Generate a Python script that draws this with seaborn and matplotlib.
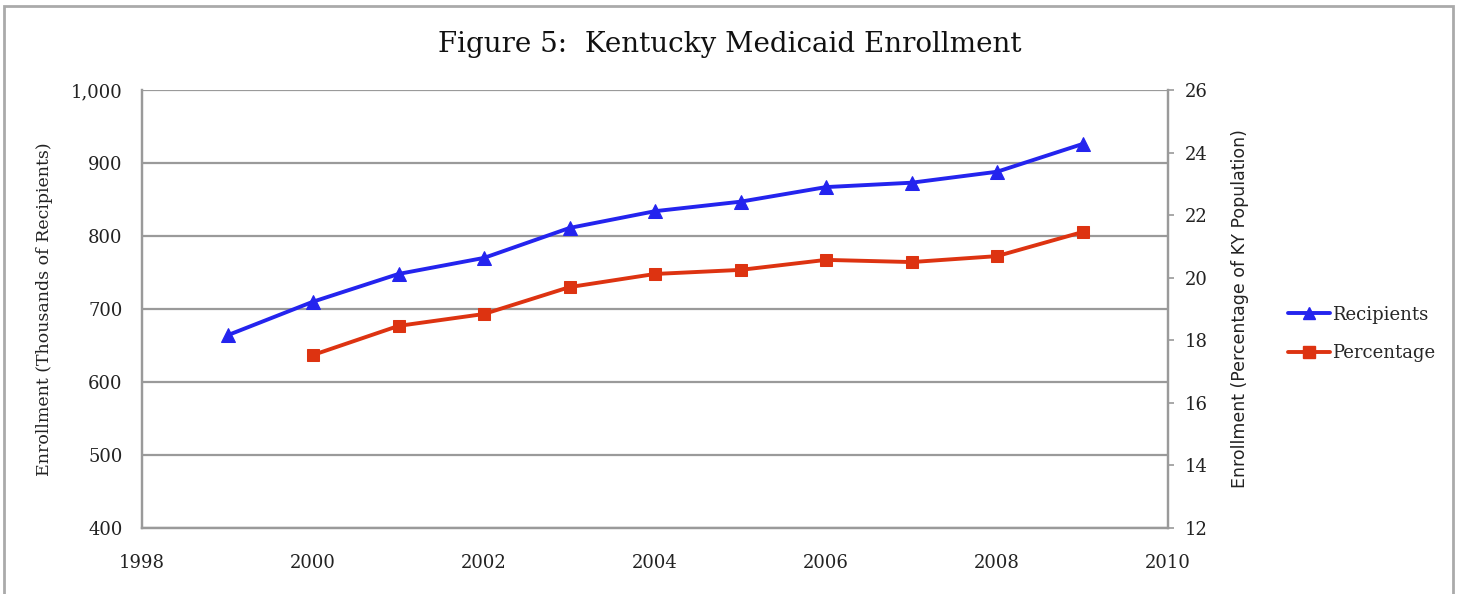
import matplotlib
matplotlib.use("Agg")
import matplotlib.pyplot as plt
import matplotlib.patches as mpatches
from matplotlib.lines import Line2D
from matplotlib.ticker import FuncFormatter
import seaborn as sns

years_recipients = [1999, 2000, 2001, 2002, 2003, 2004, 2005, 2006, 2007, 2008, 2009]
recipients = [664, 710, 748, 770, 811, 834, 847, 867, 873, 888, 926]

years_percentage = [2000, 2001, 2002, 2003, 2004, 2005, 2006, 2007, 2008, 2009]
percentage = [17.53, 18.46, 18.84, 19.70, 20.12, 20.25, 20.57, 20.50, 20.69, 21.46]

x_ticks = [1998, 2000, 2002, 2004, 2006, 2008, 2010]
left_ticks = [400, 500, 600, 700, 800, 900, 1000]
right_ticks = [12, 14, 16, 18, 20, 22, 24, 26]

title = "Figure 5:  Kentucky Medicaid Enrollment"
left_label = "Enrollment (Thousands of Recipients)"
right_label = "Enrollment (Percentage of KY Population)"
series_names = ["Recipients", "Percentage"]

BLUE = "#2424EE"
RED = "#DD3311"
GRID = "#9a9a9a"

sns.set_theme(style="white")
plt.rcParams['font.family'] = ['DejaVu Serif']

fig = plt.figure(figsize=(14.59, 5.94), dpi=100)
ax = fig.add_axes([142 / 1459, 1 - 528 / 594, (1168 - 142) / 1459, (528 - 90) / 594])
ax2 = ax.twinx()

sns.lineplot(x=years_recipients, y=recipients, ax=ax, color=BLUE, marker="^",
             markersize=10, linewidth=2.8, markeredgecolor=BLUE)
sns.lineplot(x=years_percentage, y=percentage, ax=ax2, color=RED, marker="s",
             markersize=9, linewidth=2.8, markeredgecolor=RED)

ax.set_xlim(1998, 2010)
ax.set_xticks(x_ticks)
ax.set_ylim(400, 1000)
ax.set_yticks(left_ticks)
ax.yaxis.set_major_formatter(FuncFormatter(lambda v, p: f"{int(v):,}"))
ax.yaxis.grid(True, color=GRID, linewidth=1.6)
ax.xaxis.grid(False)
ax.set_axisbelow(True)

ax2.set_ylim(12, 26)
ax2.set_yticks(right_ticks)
ax2.grid(False)

for a in (ax, ax2):
    for side in ("left", "right", "bottom"):
        a.spines[side].set_color(GRID)
        a.spines[side].set_linewidth(1.6)
    a.spines["top"].set_visible(False)

ax.tick_params(axis="y", length=0, pad=14, labelsize=13, labelcolor="#222222")
ax.tick_params(axis="x", length=0, pad=19, labelsize=13, labelcolor="#222222")
ax2.tick_params(axis="y", length=4, width=1.2, color=GRID, direction="out",
                pad=8, labelsize=13, labelcolor="#222222")

ax.set_xlabel("")
ax.set_ylabel(left_label, fontsize=12.5, labelpad=13, color="#222222")
ax2.set_ylabel(right_label, fontsize=12.5, labelpad=17, color="#222222",
               family=["DejaVu Sans"])

fig.text(0.5, 1 - 45 / 594, title, ha="center", va="center", fontsize=20,
         color="#111111")

handles = [
    Line2D([0], [0], color=BLUE, marker="^", markersize=9, linewidth=2.8),
    Line2D([0], [0], color=RED, marker="s", markersize=9, linewidth=2.8),
]
fig.legend(handles, series_names, loc="center left",
           bbox_to_anchor=(1272 / 1459, 1 - 334 / 594), frameon=False,
           fontsize=13, handlelength=2.3, handletextpad=0.1, labelspacing=1.15)

border = mpatches.Rectangle((4 / 1459, -0.05), (1453 - 4) / 1459, (594 - 6) / 594 + 0.05,
                            transform=fig.transFigure, fill=False,
                            edgecolor="#aaaaaa", linewidth=2, clip_on=False)
fig.patches.append(border)

fig.savefig("out.png", dpi=100)
